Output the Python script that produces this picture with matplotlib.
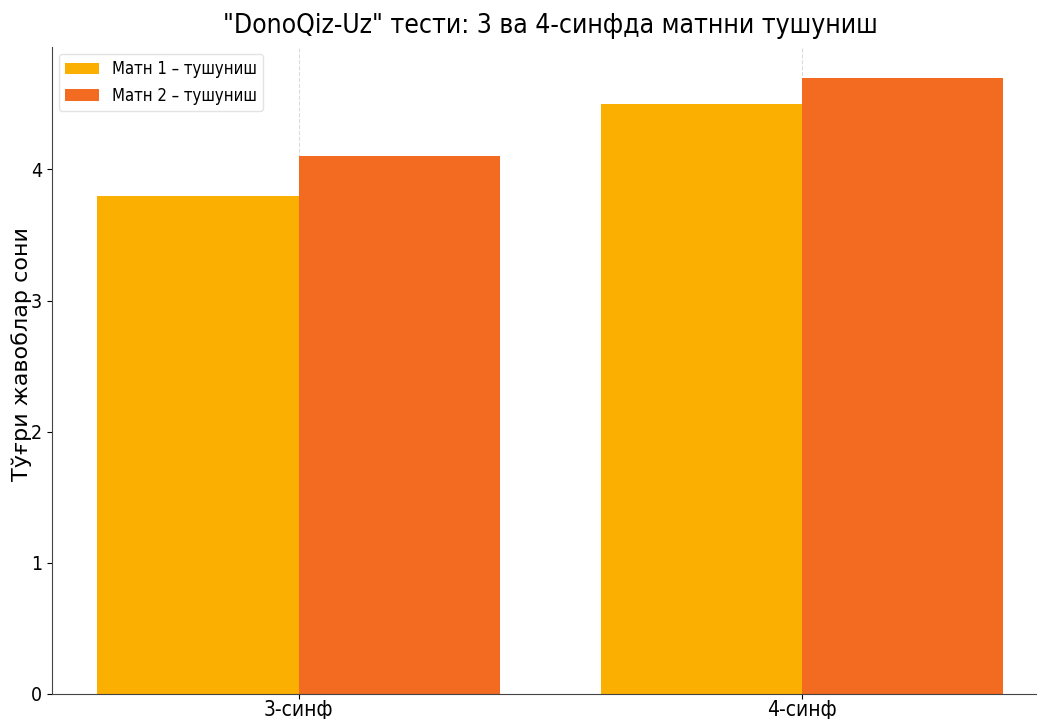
import matplotlib
matplotlib.use("Agg")
import matplotlib.pyplot as plt
import numpy as np

classes = ["3-синф", "4-синф"]
text1_scores = [3.8, 4.5]
text2_scores = [4.1, 4.7]
series_labels = ["Матн 1 – тушуниш", "Матн 2 – тушуниш"]

plt.rcParams["font.family"] = ["DejaVu Sans"]

fig = plt.figure(figsize=(10.37, 7.19), dpi=100)
ax = fig.add_axes([0.0501, 0.0348, 0.961, 0.900])

x = np.arange(len(classes))
w = 0.4
ax.bar(x - w / 2, text1_scores, w, color="#FBAF00", label=series_labels[0])
ax.bar(x + w / 2, text2_scores, w, color="#F26B21", label=series_labels[1])

ax.set_xticks(x)
ax.set_xticklabels(classes, fontsize=15, fontstretch="condensed")
for lbl in ax.get_yticklabels():
    lbl.set_fontstretch("condensed")
ax.tick_params(axis="y", labelsize=14)
ax.tick_params(axis="x", pad=1)
ax.set_ylabel("Тўғри жавоблар сони", fontsize=16)
ax.yaxis.set_label_coords(-0.020, 0.525)
ax.set_title('"DonoQiz-Uz" тести: 3 ва 4-синфда матнни тушуниш',
             fontsize=19, fontstretch="condensed", pad=10)

ax.grid(axis="x", linestyle="--", color="#cccccc", linewidth=0.8, alpha=0.7)
ax.set_axisbelow(True)
ax.spines["top"].set_visible(False)
ax.spines["right"].set_visible(False)
ax.spines["left"].set_color("#444444")
ax.spines["bottom"].set_color("#444444")

ax.legend(loc="upper left", prop={"size": 12, "stretch": "condensed"},
          framealpha=0.8, edgecolor="#dddddd", borderaxespad=0.4)

fig.savefig("out.png", dpi=100)
